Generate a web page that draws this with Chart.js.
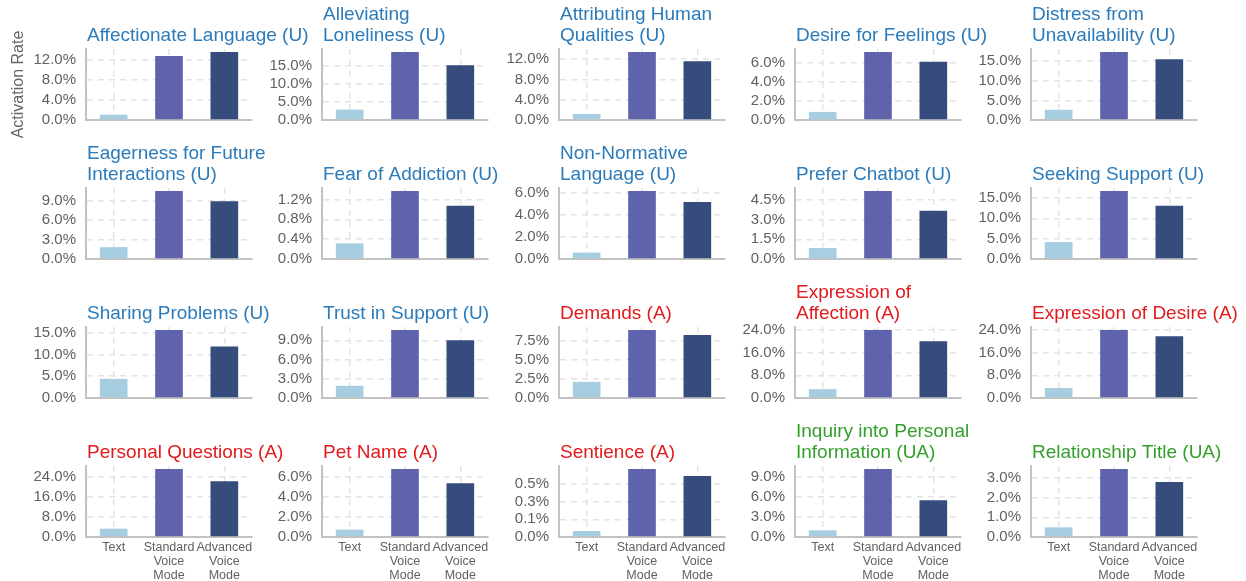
<!DOCTYPE html>
<html>
<head>
<meta charset="utf-8">
<script src="https://cdn.jsdelivr.net/npm/chart.js@4.4.1/dist/chart.umd.min.js"></script>
<style>
html,body{margin:0;padding:0;background:#fff;}
#wrap{position:relative;width:1246px;height:581px;overflow:hidden;background:#fff;}
#wrap canvas{position:absolute;}
</style>
</head>
<body>
<div id="wrap"></div>
<script>
// ---------- DATA ----------
const categories = [['Text'], ['Standard', 'Voice', 'Mode'], ['Advanced', 'Voice', 'Mode']];

const panelTitles = [
  ['Affectionate Language (U)'],
  ['Alleviating', 'Loneliness (U)'],
  ['Attributing Human', 'Qualities (U)'],
  ['Desire for Feelings (U)'],
  ['Distress from', 'Unavailability (U)'],
  ['Eagerness for Future', 'Interactions (U)'],
  ['Fear of Addiction (U)'],
  ['Non-Normative', 'Language (U)'],
  ['Prefer Chatbot (U)'],
  ['Seeking Support (U)'],
  ['Sharing Problems (U)'],
  ['Trust in Support (U)'],
  ['Demands (A)'],
  ['Expression of', 'Affection (A)'],
  ['Expression of Desire (A)'],
  ['Personal Questions (A)'],
  ['Pet Name (A)'],
  ['Sentience (A)'],
  ['Inquiry into Personal', 'Information (UA)'],
  ['Relationship Title (UA)']
];

const panelGroups = ['U','U','U','U','U','U','U','U','U','U','U','U','A','A','A','A','A','A','UA','UA'];

// activation rate (%) per panel
const textRate          = [1.06, 2.9, 1.2, 0.85, 2.6, 1.82, 0.315, 0.58, 0.83, 4.17, 4.4, 1.9, 2.1, 3.1, 3.5, 3.3, 0.73, 0.051, 1.0, 0.49];
const standardVoiceRate = [12.66, 18.96, 13.4, 7.13, 17.3, 10.46, 1.37, 6.12, 5.17, 16.7, 15.6, 10.6, 8.86, 23.9, 23.9, 26.9, 6.73, 0.576, 10.15, 3.45];
const advancedVoiceRate = [13.46, 15.3, 11.6, 6.1, 15.5, 8.9, 1.076, 5.14, 3.67, 13.1, 11.8, 9.0, 8.2, 20.0, 21.75, 22.1, 5.33, 0.517, 5.5, 2.79];

// y tick values (%) per panel
const yTickValues = [
  [0, 4, 8, 12],
  [0, 5, 10, 15],
  [0, 4, 8, 12],
  [0, 2, 4, 6],
  [0, 5, 10, 15],
  [0, 3, 6, 9],
  [0, 0.4, 0.8, 1.2],
  [0, 2, 4, 6],
  [0, 1.5, 3, 4.5],
  [0, 5, 10, 15],
  [0, 5, 10, 15],
  [0, 3, 6, 9],
  [0, 2.5, 5, 7.5],
  [0, 8, 16, 24],
  [0, 8, 16, 24],
  [0, 8, 16, 24],
  [0, 2, 4, 6],
  [0, 0.15, 0.3, 0.45],
  [0, 3, 6, 9],
  [0, 1, 2, 3]
];

const yAxisTitle = 'Activation Rate';

// ---------- STYLE / LAYOUT ----------
const FONT = '"Liberation Sans", Arial, Helvetica, sans-serif';
const groupColors = { U: '#2b7bba', A: '#e31a1c', UA: '#33a02c' };
const barColors = ['#a6cde0', '#5e63ab', '#364c7d'];
const colAxisX = [86, 322, 559, 795, 1031];
const rowBase = [120, 259, 398, 537];
const AXIS_W = 86, PLOT_W = 166, PLOT_TOP = 49, CANVAS_W = 340;

Chart.defaults.font.family = FONT;
Chart.defaults.devicePixelRatio = 1;

const panelTitlePlugin = {
  id: 'panelTitle',
  afterDraw(chart, args, opts) {
    const { ctx, chartArea } = chart;
    ctx.save();
    ctx.font = '19px ' + FONT;
    ctx.fillStyle = opts.color;
    ctx.textAlign = 'left';
    ctx.textBaseline = 'alphabetic';
    const n = opts.lines.length;
    opts.lines.forEach((t, i) => {
      ctx.fillText(t, chartArea.left + 1, chartArea.bottom - 79 - (n - 1 - i) * 21);
    });
    ctx.restore();
  }
};

const wrap = document.getElementById('wrap');

panelTitles.forEach((title, p) => {
  const r = Math.floor(p / 5), c = p % 5;
  const lastRow = r === 3;
  const xH = lastRow ? 44 : 24;
  const H = 120 + xH;
  const cv = document.createElement('canvas');
  cv.width = CANVAS_W; cv.height = H;
  cv.style.left = (colAxisX[c] - AXIS_W) + 'px';
  cv.style.top = (rowBase[r] - 120) + 'px';
  cv.style.width = CANVAS_W + 'px'; cv.style.height = H + 'px';
  wrap.appendChild(cv);

  const vals = [textRate[p], standardVoiceRate[p], advancedVoiceRate[p]];
  const maxV = Math.max(...vals) * 1.045;
  const ticks = yTickValues[p];

  new Chart(cv, {
    type: 'bar',
    data: {
      labels: categories,
      datasets: [{
        data: vals,
        backgroundColor: barColors,
        borderWidth: 0,
        barPercentage: 0.5,
        categoryPercentage: 1.0
      }]
    },
    options: {
      responsive: false,
      animation: false,
      events: [],
      layout: { padding: { top: PLOT_TOP, left: 0, right: CANVAS_W - AXIS_W - PLOT_W, bottom: 0 } },
      plugins: {
        legend: { display: false },
        tooltip: { enabled: false },
        title: { display: false },
        panelTitle: { lines: title, color: groupColors[panelGroups[p]] }
      },
      scales: {
        x: {
          grid: { display: true, offset: false, color: '#e4e4e4', lineWidth: 1.5, drawTicks: false },
          border: { display: true, color: '#c2c2c2', width: 2, dash: [6, 5] },
          ticks: {
            display: lastRow,
            autoSkip: false,
            maxRotation: 0,
            padding: 4,
            color: '#616161',
            font: { size: 12.5, lineHeight: 1.12 }
          },
          afterFit: s => { s.height = xH; }
        },
        y: {
          min: 0,
          max: maxV,
          grid: { color: '#e4e4e4', lineWidth: 1.5, drawTicks: false },
          border: { display: true, color: '#c2c2c2', width: 2, dash: [6, 5] },
          ticks: {
            autoSkip: false,
            padding: 10,
            color: '#616161',
            font: { size: 15 },
            callback: v => v.toFixed(1) + '%'
          },
          title: {
            display: p === 0,
            text: yAxisTitle,
            color: '#666666',
            font: { size: 16 },
            padding: { top: 9, bottom: 0 }
          },
          afterBuildTicks: s => { s.ticks = ticks.map(v => ({ value: v })); },
          afterFit: s => { s.width = AXIS_W; }
        }
      }
    },
    plugins: [panelTitlePlugin]
  });
});
</script>
</body>
</html>
